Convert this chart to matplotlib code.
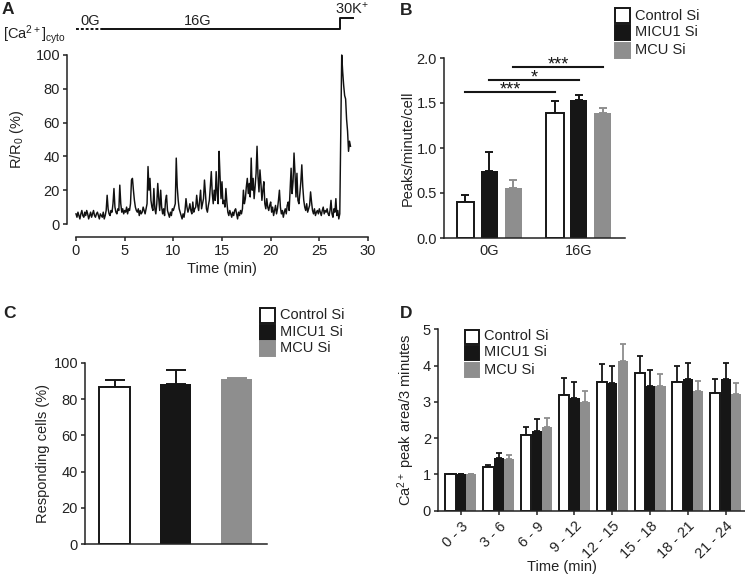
import numpy as np
import matplotlib
matplotlib.use('Agg')
import matplotlib.pyplot as plt
from matplotlib.patches import Rectangle

# ---------------- data ----------------
# Panel A: Ca2+ trace, sampled every 0.1 min
trace_dt = 0.1
trace = [
    6, 4, 7, 5, 3, 6, 8, 5, 4, 7,
    5, 8, 6, 3, 5, 7, 4, 6, 8, 5,
    4, 6, 7, 5, 3, 6, 5, 4, 7, 3,
    5, 8, 17, 9, 6, 5, 8, 7, 12, 21,
    10, 7, 6, 9, 8, 23, 12, 7, 9, 6,
    8, 7, 10, 6, 9, 8, 12, 26, 27, 20,
    14, 10, 8, 7, 9, 5, 8, 6, 7, 10,
    8, 6, 9, 12, 34, 20, 27, 14, 10, 8,
    21, 9, 6, 12, 24, 15, 8, 20, 10, 6,
    9, 5, 14, 17, 8, 6, 4, 7, 5, 9,
    8, 10, 12, 39, 22, 14, 9, 7, 5, 3,
    6, 4, 8, 15, 10, 7, 9, 12, 8, 6,
    13, 7, 9, 10, 17, 11, 8, 14, 20, 9,
    12, 15, 26, 18, 9, 7, 11, 14, 22, 31,
    18, 12, 20, 14, 31, 18, 12, 43, 28, 15,
    25, 12, 14, 10, 21, 13, 7, 5, 8, 6,
    4, 7, 5, 8, 9, 6, 3, 7, 5, 8,
    6, 9, 20, 12, 15, 22, 27, 18, 24, 16,
    39, 20, 27, 15, 22, 30, 46, 28, 19, 32,
    24, 14, 20, 25, 12, 9, 15, 10, 8, 11,
    13, 7, 10, 5, 8, 11, 6, 9, 14, 20,
    10, 6, 8, 4, 7, 9, 6, 11, 13, 8,
    21, 33, 18, 25, 42, 30, 16, 30, 14, 12,
    18, 25, 35, 22, 14, 10, 8, 12, 7, 9,
    11, 19, 13, 8, 6, 9, 5, 7, 8, 6,
    9, 7, 5, 8, 10, 6, 8, 7, 9, 6,
    5, 8, 14, 6, 4, 9, 7, 15, 5, 8,
    3, 6, 55, 100, 90, 82, 76, 74, 62, 55,
    43, 49, 46,
]
proto_0G = [0, 2.8]
proto_16G = [2.8, 27.1]
proto_30K = [27.1, 28.5]

series = ['Control Si', 'MICU1 Si', 'MCU Si']

# Panel B
b_groups = ['0G', '16G']
b_ctrl = [0.40, 1.39]
b_ctrl_err = [0.48, 1.52]
b_micu1 = [0.74, 1.535]
b_micu1_err = [0.96, 1.59]
b_mcu = [0.56, 1.39]
b_mcu_err = [0.65, 1.45]
b_sig_labels = ['***', '*', '***']
b_sig_heights = [1.62, 1.76, 1.90]

# Panel C
c_vals = [86.6, 88.6, 91.2]
c_err = [90.8, 95.9, 91.9]

# Panel D
d_groups = ['0 - 3', '3 - 6', '6 - 9', '9 - 12', '12 - 15', '15 - 18', '18 - 21', '21 - 24']
d_ctrl = [1.0, 1.21, 2.08, 3.19, 3.56, 3.79, 3.56, 3.25]
d_ctrl_err = [1.0, 1.27, 2.31, 3.67, 4.05, 4.27, 3.98, 3.63]
d_micu1 = [1.0, 1.44, 2.21, 3.10, 3.52, 3.44, 3.63, 3.63]
d_micu1_err = [1.0, 1.60, 2.54, 3.55, 3.98, 3.89, 4.07, 4.08]
d_mcu = [1.0, 1.42, 2.32, 3.00, 4.13, 3.43, 3.30, 3.22]
d_mcu_err = [1.0, 1.53, 2.56, 3.31, 4.60, 3.77, 3.58, 3.51]

# ---------------- style ----------------
plt.rcParams['font.family'] = ['Liberation Sans', 'DejaVu Sans']
plt.rcParams['font.size'] = 10.5
plt.rcParams['mathtext.fontset'] = 'custom'
plt.rcParams['mathtext.rm'] = 'Liberation Sans'
plt.rcParams['mathtext.it'] = 'Liberation Sans:italic'
plt.rcParams['mathtext.bf'] = 'Liberation Sans:bold'

W, H = 745, 579
fig = plt.figure(figsize=(W / 100, H / 100), dpi=100)

WHITE = 'white'
BLACK = '#161616'
GRAY = '#8e8e8e'
AX = '#222222'
FILL = [WHITE, BLACK, GRAY]
EDGE = [BLACK, BLACK, GRAY]
ERRC = [BLACK, BLACK, GRAY]


def axes_px(l, t, r, b):
    return fig.add_axes([l / W, 1 - b / H, (r - l) / W, (b - t) / H])


def style(ax, left_out=0.0, bottom_out=0.0):
    for s in ['top', 'right']:
        ax.spines[s].set_visible(False)
    ax.spines['left'].set_position(('outward', left_out))
    ax.spines['bottom'].set_position(('outward', bottom_out))
    for s in ['left', 'bottom']:
        ax.spines[s].set_linewidth(1.1)
        ax.spines[s].set_color(AX)
    ax.tick_params(direction='out', length=3, width=1.1, color=AX,
                   labelsize=10.5, labelcolor=AX, pad=2)
    ax.patch.set_alpha(0)


def ftext(x, y, s, **kw):
    fig.text(x / W, 1 - y / H, s, **kw)


def legend_px(x, ys, size=15):
    for lab, y, fc, ec in zip(series, ys, FILL, EDGE):
        r = Rectangle(((x) / W, 1 - (y + size / 2) / H), size / W, size / H,
                      transform=fig.transFigure, facecolor=fc, edgecolor=ec,
                      linewidth=1.4)
        fig.add_artist(r)
        ftext(x + size + 5, y, lab, ha='left', va='center', fontsize=10.5, color=AX)


def bars_with_err(ax, x, vals, tops, fc, ec, erc, width, capsize, lw=1.4):
    vals = np.asarray(vals, float)
    tops = np.asarray(tops, float)
    ax.errorbar(x, vals, yerr=[np.zeros_like(vals), tops - vals], fmt='none',
                ecolor=erc, elinewidth=lw, capsize=capsize, capthick=lw, zorder=1)
    ax.bar(x, vals, width=width, color=fc, edgecolor=ec,
           linewidth=(1.4 if fc == WHITE else 0), zorder=2)


# ---------------- Panel A ----------------
axA = axes_px(76, 55, 368, 224)
style(axA, 6.5, 9.4)
tA = np.arange(len(trace)) * trace_dt
axA.plot(tA, trace, color='#111111', lw=1.05, clip_on=False)
axA.set_xlim(0, 30)
axA.set_ylim(0, 100)
axA.set_xticks(range(0, 31, 5))
axA.set_yticks(range(0, 101, 20))
axA.set_xlabel('Time (min)', fontsize=10.5, color=AX)
axA.xaxis.set_label_coords(0.5, -0.225)
axA.set_ylabel('R/R$_0$ (%)', fontsize=10.5, color=AX)
axA.yaxis.set_label_coords(-0.17, 0.5)

trA = axA.get_xaxis_transform()
axA.plot(proto_0G, [1.154, 1.154], transform=trA, color='#111111', lw=1.4,
         ls=(0, (1.5, 1)), clip_on=False)
axA.plot([proto_16G[0], proto_16G[1], proto_30K[0], proto_30K[1]],
         [1.154, 1.154, 1.219, 1.219], transform=trA, color='#111111', lw=1.4,
         clip_on=False)
axA.text(1.45, 1.162, '0G', transform=trA, ha='center', va='bottom', fontsize=10.5, color=AX)
axA.text(12.5, 1.162, '16G', transform=trA, ha='center', va='bottom', fontsize=10.5, color=AX)
axA.text(28.3, 1.226, '30K$^{+}$', transform=trA, ha='center', va='bottom', fontsize=10.5, color=AX)
ftext(3, 39, '[Ca$^{2+}$]$_{\\rm cyto}$', ha='left', va='baseline', fontsize=10.5, color=AX)
ftext(2, 14, 'A', ha='left', va='baseline', fontsize=12.5, fontweight='bold', color=AX)

# ---------------- Panel B ----------------
axB = axes_px(444, 58, 625, 238)
style(axB)
xb = np.arange(len(b_groups))
offB = [-0.268, 0.0, 0.268]
for i, (v, e) in enumerate([(b_ctrl, b_ctrl_err), (b_micu1, b_micu1_err), (b_mcu, b_mcu_err)]):
    bars_with_err(axB, xb + offB[i], v, e, FILL[i], EDGE[i], ERRC[i], 0.19, 3.2)
axB.set_xlim(-0.508, 1.514)
axB.set_ylim(0, 2.0)
axB.set_yticks([0, 0.5, 1.0, 1.5, 2.0])
axB.set_yticklabels(['0.0', '0.5', '1.0', '1.5', '2.0'])
axB.set_xticks(xb)
axB.set_xticklabels(b_groups)
axB.tick_params(axis='x', length=0, pad=4)
axB.set_ylabel('Peaks/minute/cell', fontsize=10.5, color=AX)
axB.yaxis.set_label_coords(-0.16, 0.5)
for i, (lab, h) in enumerate(zip(b_sig_labels, b_sig_heights)):
    x0, x1 = xb[0] + offB[i], xb[1] + offB[i]
    axB.plot([x0, x1], [h, h], color=BLACK, lw=1.5, clip_on=False)
    axB.text((x0 + x1) / 2, h - 0.03, lab, ha='center', va='baseline',
             fontsize=13, color=BLACK)
legend_px(615, [15.5, 32.5, 50])
ftext(400, 15, 'B', ha='left', va='baseline', fontsize=12.5, fontweight='bold', color=AX)

# ---------------- Panel C ----------------
axC = axes_px(85, 363, 267, 544)
style(axC)
xc = np.arange(len(series))
for i in range(3):
    bars_with_err(axC, [xc[i]], [c_vals[i]], [c_err[i]], FILL[i], EDGE[i], ERRC[i], 0.51, 7.5)
axC.set_xlim(-0.484, 2.5)
axC.set_ylim(0, 100)
axC.set_yticks(range(0, 101, 20))
axC.set_xticks([])
axC.set_ylabel('Responding cells (%)', fontsize=10.5, color=AX)
axC.yaxis.set_label_coords(-0.192, 0.5)
legend_px(260, [315, 332, 348.5])
ftext(3, 318, 'C', ha='left', va='baseline', fontsize=12.5, fontweight='bold', color=AX)

# ---------------- Panel D ----------------
axD = axes_px(438, 329.3, 745, 510.7)
style(axD)
xd = np.arange(len(d_groups))
offD = [-0.275, 0.0, 0.275]
for i, (v, e) in enumerate([(d_ctrl, d_ctrl_err), (d_micu1, d_micu1_err), (d_mcu, d_mcu_err)]):
    bars_with_err(axD, xd + offD[i], v, e, FILL[i], EDGE[i], ERRC[i], 0.27, 2.0, lw=1.3)
axD.set_xlim(-0.608, 7.51)
axD.set_ylim(0, 5)
axD.set_yticks(range(0, 6))
axD.set_xticks(xd)
axD.set_xticklabels(d_groups, rotation=45, ha='right', rotation_mode='anchor')
axD.tick_params(axis='x', length=3, pad=3)
axD.set_ylabel('Ca$^{2+}$ peak area/3 minutes', fontsize=10.5, color=AX)
axD.yaxis.set_label_coords(-0.068, 0.5)
axD.set_xlabel('Time (min)', fontsize=10.5, color=AX)
axD.xaxis.set_label_coords(0.404, -0.27)
legend_px(465, [336.5, 352.5, 369.5], size=14)
ftext(400, 318, 'D', ha='left', va='baseline', fontsize=12.5, fontweight='bold', color=AX)

fig.savefig('out.png', dpi=100)
